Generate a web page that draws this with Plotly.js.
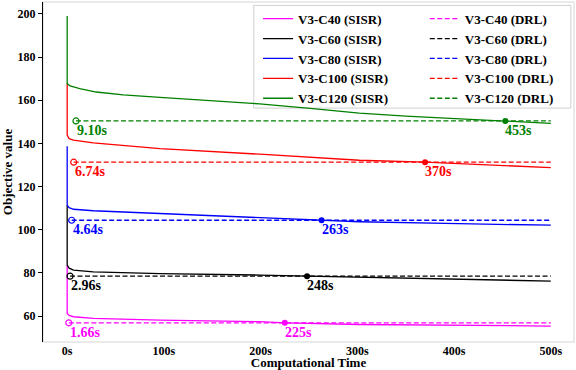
<!DOCTYPE html>
<html>
<head>
<meta charset="utf-8">
<script src="https://cdn.plot.ly/plotly-3.0.1.min.js"></script>
<style>
  html, body { margin: 0; padding: 0; background: #fff; }
  #chart { width: 576px; height: 370px; }
</style>
</head>
<body>
<div id="chart"></div>
<script>
// ---------------- data ----------------
const instances = ['V3-C40', 'V3-C60', 'V3-C80', 'V3-C100', 'V3-C120'];

// SISR convergence curves (time in seconds, objective value)
const sisrTimeC40  = [0, 0, 2, 6.5, 27, 96, 199, 225, 302, 405, 500];
const sisrValueC40 = [83.6, 61.2, 60.3, 59.7, 58.9, 58.1, 57.4, 56.9, 56.1, 55.8, 55.4];

const sisrTimeC60  = [0, 0, 2, 6.5, 27, 96, 199, 248, 302, 405, 500];
const sisrValueC60 = [111.4, 83.6, 82.2, 81.3, 80.5, 79.7, 79.0, 78.5, 77.9, 77.0, 76.2];

const sisrTimeC80  = [0, 0, 2, 6.5, 27, 96, 199, 263, 302, 405, 500];
const sisrValueC80 = [138.7, 111.4, 110.2, 109.5, 108.8, 107.5, 105.5, 104.4, 103.7, 102.8, 102.1];

const sisrTimeC100  = [0, 0, 2, 6.5, 27, 96, 199, 302, 370, 440, 500];
const sisrValueC100 = [167.7, 143.8, 142.2, 141.5, 140.2, 137.6, 135.0, 132.2, 131.3, 130.0, 128.8];

const sisrTimeC120  = [0, 0, 3, 13, 30, 58, 96, 148, 199, 251, 302, 350, 405, 453, 500];
const sisrValueC120 = [199, 167.7, 166.6, 165.4, 163.8, 162.5, 161.3, 159.8, 158.3, 156.2, 154.0, 152.6, 151.3, 150.4, 149.3];

const sisrTimes  = [sisrTimeC40, sisrTimeC60, sisrTimeC80, sisrTimeC100, sisrTimeC120];
const sisrValues = [sisrValueC40, sisrValueC60, sisrValueC80, sisrValueC100, sisrValueC120];

// DRL results: solving time and objective value
const drlTime  = [1.66, 2.96, 4.64, 6.74, 9.10];
const drlValue = [56.9, 78.5, 104.4, 131.3, 150.4];

// time at which SISR reaches the DRL objective
const matchTime = [225, 248, 263, 370, 453];

const timeLimit = 500;
const xTickVals = [0, 100, 200, 300, 400, 500];
const xTickText = ['0s', '100s', '200s', '300s', '400s', '500s'];
const yTickVals = [60, 80, 100, 120, 140, 160, 180, 200];

// ---------------- styles ----------------
const colors = ['#ff00ff', '#000000', '#0000ff', '#ff0000', '#008000'];
const FONT = 'Liberation Serif';

const traces = [];
// SISR solid lines (legend 1)
instances.forEach((name, i) => {
  traces.push({
    x: sisrTimes[i], y: sisrValues[i], type: 'scatter', mode: 'lines',
    name: name + ' (SISR)', legend: 'legend',
    line: { color: colors[i], width: 1.3 },
    hoverinfo: 'skip'
  });
});
// DRL dashed lines (legend 2)
instances.forEach((name, i) => {
  traces.push({
    x: [drlTime[i], timeLimit], y: [drlValue[i], drlValue[i]],
    type: 'scatter', mode: 'lines',
    name: name + ' (DRL)', legend: 'legend2',
    line: { color: colors[i], width: 1.3, dash: '5px,2.5px' },
    hoverinfo: 'skip'
  });
});
// hollow markers at DRL time
instances.forEach((name, i) => {
  traces.push({
    x: [drlTime[i]], y: [drlValue[i]], type: 'scatter', mode: 'markers',
    showlegend: false,
    marker: { symbol: 'circle-open', size: 6, color: colors[i], line: { width: 1.2, color: colors[i] } },
    hoverinfo: 'skip'
  });
});
// filled markers where SISR matches DRL
instances.forEach((name, i) => {
  traces.push({
    x: [matchTime[i]], y: [drlValue[i]], type: 'scatter', mode: 'markers',
    showlegend: false,
    marker: { symbol: 'circle', size: 6, color: colors[i] },
    hoverinfo: 'skip'
  });
});

const annotations = [];
instances.forEach((name, i) => {
  annotations.push({
    x: drlTime[i], y: drlValue[i], xref: 'x', yref: 'y',
    text: '<b>' + drlTime[i].toFixed(2) + 's</b>', showarrow: false,
    xanchor: 'left', yanchor: 'top', yshift: 0, xshift: -1,
    font: { family: FONT, size: 14, color: colors[i] }
  });
  annotations.push({
    x: matchTime[i], y: drlValue[i], xref: 'x', yref: 'y',
    text: '<b>' + matchTime[i] + 's</b>', showarrow: false,
    xanchor: 'left', yanchor: 'top', yshift: 0, xshift: -2,
    font: { family: FONT, size: 14, color: colors[i] }
  });
});

const legendFont = { family: FONT, size: 13, color: '#000', weight: 'bold' };

const layout = {
  width: 576, height: 370,
  margin: { l: 43, r: 2, t: 2, b: 28 },
  paper_bgcolor: '#ffffff', plot_bgcolor: '#ffffff',
  showlegend: true,
  font: { family: FONT, size: 12, color: '#000' },
  xaxis: {
    range: [-25, 524],
    tickvals: xTickVals, ticktext: xTickText.map(t => '<b>' + t + '</b>'),
    ticks: '',
    showgrid: false, zeroline: false, showline: false,
    tickfont: { family: FONT, size: 12, color: '#000' },
    title: { text: '<b>Computational Time</b>', standoff: 4,
             font: { family: FONT, size: 13, color: '#000' } }
  },
  yaxis: {
    range: [48, 205.5],
    tickvals: yTickVals, ticktext: yTickVals.map(v => '<b>' + v + '</b>'),
    ticks: 'outside', ticklen: 4, tickcolor: '#000',
    showgrid: false, zeroline: false,
    showline: true, linecolor: '#000', linewidth: 1.2,
    tickfont: { family: FONT, size: 12, color: '#000' },
    title: { text: '<b>Objective value</b>', standoff: 4,
             font: { family: FONT, size: 13, color: '#000' } }
  },
  legend: {
    x: 0.405, y: 0.995, xanchor: 'left', yanchor: 'top',
    bgcolor: 'rgba(0,0,0,0)', borderwidth: 0,
    font: legendFont, traceorder: 'normal'
  },
  legend2: {
    x: 0.719, y: 0.995, xanchor: 'left', yanchor: 'top',
    bgcolor: 'rgba(0,0,0,0)', borderwidth: 0,
    font: legendFont, traceorder: 'normal'
  },
  shapes: [
    { type: 'rect', xref: 'paper', yref: 'paper', x0: 0, x1: 1, y0: 0, y1: 1,
      line: { color: '#e3e3e3', width: 1.5 }, layer: 'below' },
    { type: 'rect', xref: 'paper', yref: 'paper', x0: 0.397, x1: 0.994, y0: 0.688, y1: 0.99,
      line: { color: '#cfcfcf', width: 1 }, fillcolor: '#ffffff', layer: 'below' }
  ],
  annotations: annotations
};

Plotly.newPlot('chart', traces, layout, { staticPlot: true, displayModeBar: false });
</script>
</body>
</html>
